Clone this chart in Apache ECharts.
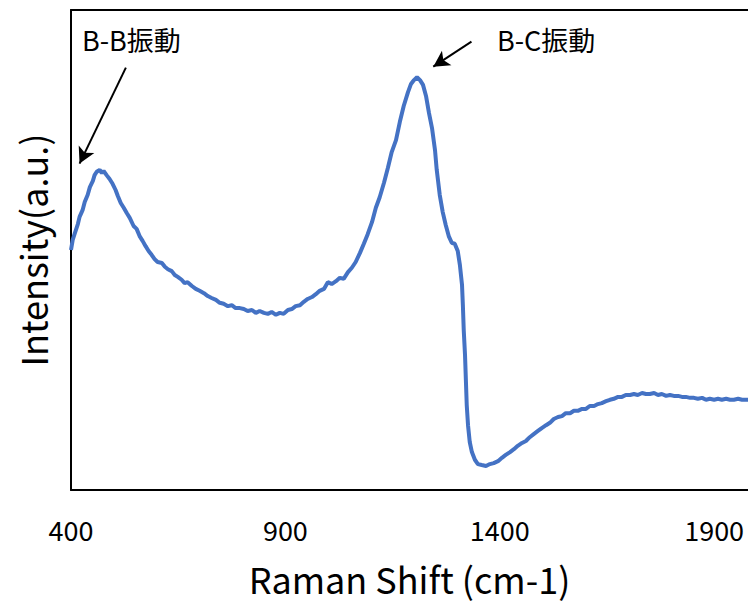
<!DOCTYPE html>
<html>
<head>
<meta charset="utf-8">
<script src="https://cdn.jsdelivr.net/npm/echarts@6/dist/echarts.min.js"></script>
<style>
  html, body { margin: 0; padding: 0; background: #fff; }
  #chart { width: 748px; height: 604px; }
</style>
</head>
<body>
<div id="chart"></div>
<script>
// ラマンシフト (cm-1)
const shift = [
  400, 404, 409, 416, 420, 427, 432, 439, 444, 451, 455, 460, 467, 472, 476, 483, 490, 497, 504, 509,
  516, 523, 530, 537, 546, 553, 560, 567, 574, 581, 588, 595, 602, 612, 619, 626, 635, 642, 649, 658,
  665, 672, 682, 691, 700, 710, 719, 728, 738, 747, 756, 766, 775, 784, 794, 803, 812, 822, 831, 840,
  850, 859, 868, 878, 887, 896, 906, 915, 924, 934, 943, 952, 962, 971, 980, 990, 999, 1008, 1018, 1027,
  1036, 1046, 1055, 1064, 1074, 1083, 1092, 1102, 1111, 1120, 1130, 1139, 1148, 1158, 1167, 1176, 1186, 1193, 1200, 1207,
  1214, 1221, 1228, 1235, 1242, 1249, 1253, 1260, 1267, 1274, 1281, 1288, 1295, 1302, 1307, 1312, 1314, 1316, 1319, 1321,
  1323, 1326, 1330, 1335, 1342, 1349, 1358, 1368, 1377, 1386, 1396, 1405, 1414, 1424, 1433, 1442, 1452, 1461, 1470, 1480,
  1489, 1498, 1508, 1517, 1526, 1536, 1545, 1554, 1564, 1573, 1582, 1592, 1601, 1610, 1620, 1629, 1638, 1648, 1657, 1666,
  1676, 1685, 1694, 1704, 1713, 1722, 1732, 1741, 1750, 1760, 1769, 1778, 1788, 1797, 1806, 1816, 1825, 1834, 1844, 1853,
  1862, 1872, 1881, 1890, 1900, 1909, 1918, 1928, 1937, 1946, 1956, 1965, 1974, 1979
];

// 強度 (a.u.)
const intensity = [
  50.0, 52.1, 53.5, 55.4, 56.9, 58.3, 60.0, 61.5, 63.1, 64.4, 65.6, 66.3, 66.7, 66.0, 66.5, 65.6, 64.8, 63.8, 62.5, 61.3,
  59.8, 58.8, 57.7, 56.7, 55.0, 54.4, 52.9, 51.9, 50.8, 49.8, 49.0, 48.1, 47.5, 47.3, 46.5, 46.0, 45.6, 44.8, 44.4, 43.8,
  43.1, 43.3, 42.5, 41.9, 41.5, 41.0, 40.4, 40.0, 39.6, 39.0, 38.8, 38.3, 38.5, 37.9, 37.9, 37.7, 37.3, 37.5, 36.9, 37.3,
  36.9, 36.7, 37.1, 36.5, 36.9, 36.7, 37.5, 37.7, 38.3, 38.5, 39.2, 39.8, 40.2, 40.8, 41.5, 41.9, 43.3, 42.9, 43.5, 44.2,
  44.0, 45.4, 46.3, 47.5, 49.4, 51.3, 53.3, 55.8, 58.8, 61.0, 64.0, 67.1, 70.4, 72.9, 76.7, 80.0, 82.9, 84.6, 85.4, 86.0,
  85.4, 84.4, 82.1, 78.5, 75.4, 70.8, 66.7, 61.5, 57.9, 55.2, 52.9, 51.5, 51.3, 49.8, 46.9, 42.7, 38.5, 33.3, 28.1, 22.9,
  17.7, 13.5, 10.0, 7.9, 6.3, 5.4, 5.2, 5.0, 5.4, 5.6, 6.0, 6.7, 7.3, 7.9, 8.5, 9.2, 9.8, 10.2, 11.0, 11.7,
  12.3, 12.9, 13.5, 14.0, 14.8, 15.2, 15.4, 16.0, 16.0, 16.5, 16.5, 16.9, 16.9, 17.5, 17.5, 17.9, 18.1, 18.5, 18.8, 19.0,
  19.4, 19.4, 19.8, 19.8, 20.0, 19.8, 20.2, 20.0, 20.0, 20.2, 19.8, 20.0, 19.6, 19.8, 19.6, 19.6, 19.4, 19.4, 19.2, 19.2,
  19.0, 19.2, 18.8, 19.0, 18.8, 19.0, 18.8, 19.0, 18.8, 18.8, 19.0, 18.8, 18.8, 18.8
];

// 目盛りラベル
const xTicks = [400, 900, 1400, 1900];

// 注釈の矢印 [始点, 終点] (データ座標)
const arrowBB = [[528, 88], [420, 68]];
const arrowBC = [[1334, 93.4], [1245, 88.2]];

const FONT = '"Noto Sans CJK JP", "Noto Sans", sans-serif';

const chart = echarts.init(document.getElementById('chart'), null, { renderer: 'svg' });

const option = {
  animation: false,
  backgroundColor: '#fff',
  grid: { left: 71, top: 10, right: 0, bottom: 114, containLabel: false },
  xAxis: [
    {
      type: 'value',
      min: 400,
      max: 1979,
      position: 'bottom',
      name: 'Raman Shift (cm-1)',
      nameLocation: 'middle',
      nameGap: 70,
      nameTextStyle: { fontFamily: FONT, fontSize: 36, color: '#000' },
      axisLine: { show: true, lineStyle: { color: '#000', width: 2 } },
      axisTick: { show: false },
      splitLine: { show: false },
      axisLabel: {
        customValues: xTicks,
        formatter: v => String(v),
        margin: 26,
        fontFamily: FONT,
        fontSize: 27,
        color: '#000'
      }
    },
    {
      // 上側の枠線
      type: 'value',
      min: 400,
      max: 1979,
      position: 'top',
      axisLine: { show: true, onZero: false, lineStyle: { color: '#000', width: 2 } },
      axisTick: { show: false },
      axisLabel: { show: false },
      splitLine: { show: false }
    }
  ],
  yAxis: {
    type: 'value',
    min: 0,
    max: 100,
    name: 'Intensity(a.u.)',
    nameLocation: 'middle',
    nameGap: 21,
    nameTextStyle: { fontFamily: FONT, fontSize: 36, color: '#000' },
    axisLine: { show: true, lineStyle: { color: '#000', width: 2 } },
    axisTick: { show: false },
    axisLabel: { show: false },
    splitLine: { show: false }
  },
  series: [
    {
      type: 'line',
      data: shift.map((s, i) => [s, intensity[i]]),
      showSymbol: false,
      lineStyle: { color: '#4472C4', width: 4 },
      itemStyle: { color: '#4472C4' },
      markLine: {
        silent: true,
        symbol: ['none', 'arrow'],
        symbolSize: [13, 16],
        label: { show: false },
        lineStyle: { color: '#000', width: 2, type: 'solid' },
        data: [
          [{ coord: arrowBB[0] }, { coord: arrowBB[1] }],
          [{ coord: arrowBC[0] }, { coord: arrowBC[1] }]
        ]
      }
    }
  ],
  graphic: [
    {
      type: 'text',
      left: 82,
      top: 26,
      style: { text: 'B-B振動', font: '27px ' + FONT, fill: '#000' }
    },
    {
      type: 'text',
      left: 497,
      top: 26,
      style: { text: 'B-C振動', font: '27px ' + FONT, fill: '#000' }
    }
  ]
};

chart.setOption(option);
</script>
</body>
</html>
